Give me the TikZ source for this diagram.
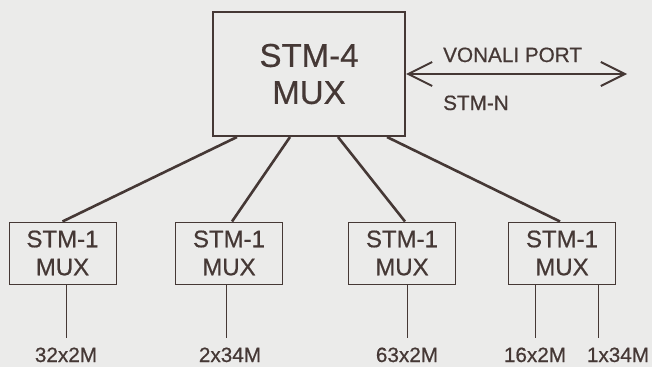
\documentclass[tikz,border=0pt]{standalone}
\usepackage{fontspec}
\setmainfont[FakeBold=0.6]{Liberation Sans}
\usepackage{tikz}
\usetikzlibrary{arrows.meta,positioning}

\definecolor{ink}{HTML}{453835}
\definecolor{paper}{HTML}{EBEBEA}

\begin{document}
\begin{tikzpicture}[x=1pt, y=-1pt,
  bigmux/.style={draw=ink, line width=2pt, minimum width=192pt, minimum height=124pt,
    align=center, inner sep=0pt, text=ink, font=\fontsize{33}{37}\selectfont},
  mux/.style={draw=ink, line width=1pt, minimum width=107pt, minimum height=62pt,
    align=center, inner sep=0pt, text=ink, font=\fontsize{24}{28}\selectfont},
  lbl/.style={anchor=base, inner sep=0pt, text=ink, font=\fontsize{20.7}{24}\selectfont},
  link/.style={draw=ink, line width=2.6pt},
  trib/.style={draw=ink, line width=0.8pt, shorten >=9pt},
  arr/.style={draw=ink, line width=2pt, {Straight Barb[length=24pt,width=24pt]}-{Straight Barb[length=24pt,width=24pt]}}]
\fill[paper] (0,0) rectangle (652,367);
% main multiplexer and line port
\node[bigmux] (big) at (309,74) {STM-4\\MUX};
\coordinate (portend) at (627,74);
\draw[arr] (big.east) -- (portend);
\node[lbl, anchor=base west] (vonali) at (443,62) {VONALI PORT};
\node[lbl, anchor=base west] (stmn) at (443,110) {STM-N};
% tributary multiplexers
\node[mux] (b1) at (62.5,253) {STM-1\\MUX};
\node[mux] (b2) at (229,253) {STM-1\\MUX};
\node[mux] (b3) at (402,253) {STM-1\\MUX};
\node[mux] (b4) at (562,253) {STM-1\\MUX};
\draw[link] ([xshift=-72pt]big.south) -- (b1.north);
\draw[link] ([xshift=-19pt]big.south) -- ([xshift=3pt]b2.north);
\draw[link] ([xshift=29pt]big.south) -- ([xshift=3pt]b3.north);
\draw[link] ([xshift=78pt]big.south) -- ([xshift=-2pt]b4.north);
% tributaries
\node[lbl] (l1) at (66,362) {32x2M};
\node[lbl] (l2) at (230,362) {2x34M};
\node[lbl] (l3) at (407,362) {63x2M};
\node[lbl] (l4) at (535,362) {16x2M};
\node[lbl] (l5) at (618,362) {1x34M};
\coordinate (t5) at (598,347);
\draw[trib] (l1.north |- b1.south) -- (l1.north);
\draw[trib] ([xshift=-4pt]l2.north |- b2.south) -- ([xshift=-4pt]l2.north);
\draw[trib] (l3.north |- b3.south) -- (l3.north);
\draw[trib] (l4.north |- b4.south) -- (l4.north);
\draw[trib] (t5 |- b4.south) -- (t5);
\end{tikzpicture}
\end{document}
